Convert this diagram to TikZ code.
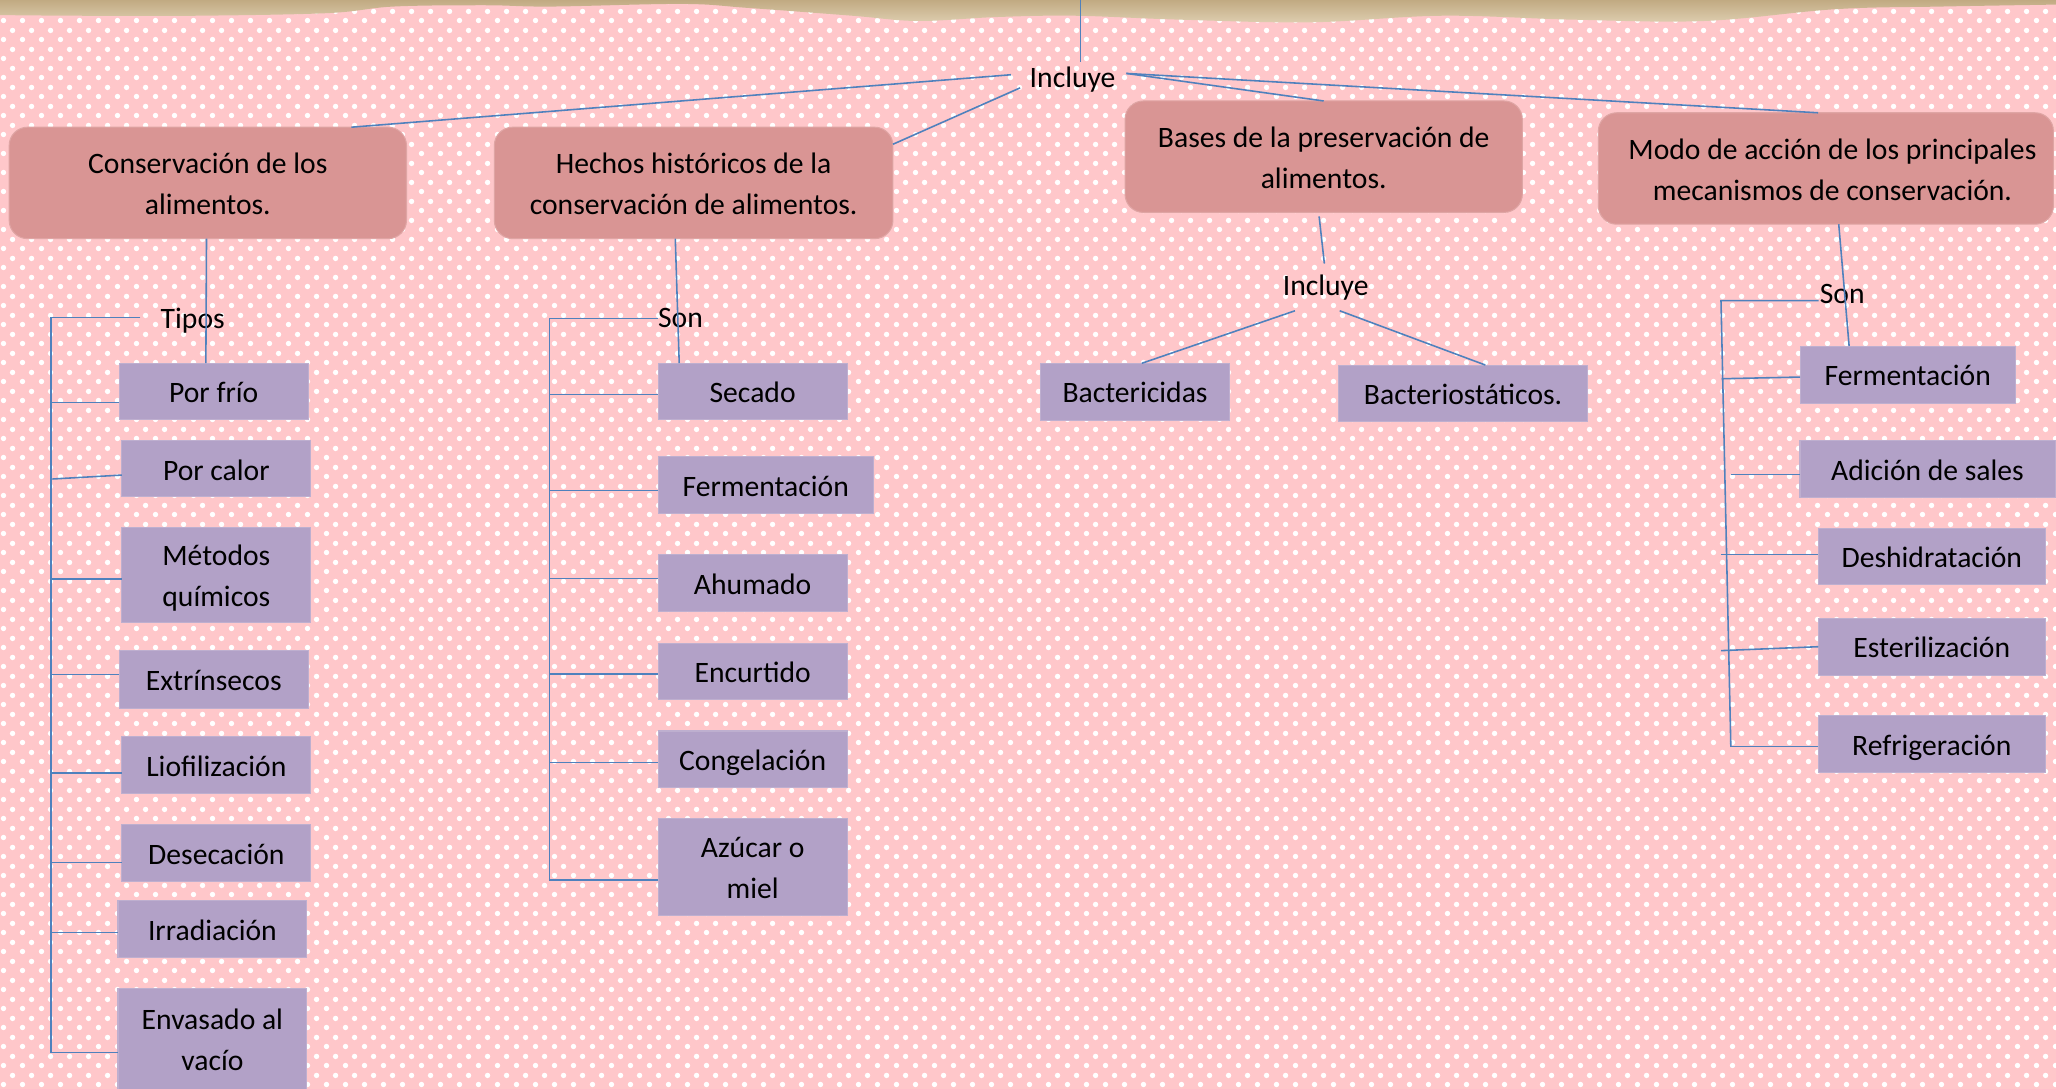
\documentclass[tikz,border=0pt]{standalone}
\usepackage{fontspec}
\setmainfont{Carlito}
\usetikzlibrary{patterns}
\pgfdeclarepatternformonly{pinkdots}{\pgfqpoint{0pt}{0pt}}{\pgfqpoint{7.25pt}{7.25pt}}{\pgfqpoint{7.25pt}{7.25pt}}{%
  \pgfpathcircle{\pgfqpoint{1.8125pt}{1.8125pt}}{1.08pt}%
  \pgfpathcircle{\pgfqpoint{5.4375pt}{5.4375pt}}{1.08pt}%
  \pgfusepath{fill}}
\definecolor{bgpink}{RGB}{255,199,202}
\definecolor{salmon}{RGB}{217,149,148}
\definecolor{lilac}{RGB}{178,161,199}
\definecolor{lineblue}{RGB}{79,129,189}
\definecolor{tanA}{RGB}{193,170,130}
\definecolor{tanB}{RGB}{222,206,176}
\newcommand{\txl}[1]{\raisebox{0pt}[11pt][2.4pt]{#1}}
\tikzset{
  every node/.style={font=\fontsize{11.3pt}{15.6pt}\selectfont, outer sep=0pt},
  conn/.style={draw=lineblue, line width=0.6pt},
  lbl/.style={inner sep=0pt},
  topbox/.style={fill=salmon, draw=salmon!85!white, line width=0.4pt, rounded corners=7pt, align=center, inner sep=0pt},
  leaf/.style={fill=lilac, draw=lilac!85!white, line width=0.4pt, align=center, inner sep=0pt}
}
\begin{document}
\begin{tikzpicture}[x=0.5pt, y=-0.5pt]
\useasboundingbox (0,0) rectangle (1568,830.5);
% background
\fill[bgpink] (0,0) rectangle (1568,830.5);
\fill[pattern=pinkdots, pattern color=white] (0,0) rectangle (1568,830.5);
\shade[top color=tanA, bottom color=tanB] (0,0) -- plot[smooth, tension=0.6] coordinates {(0,11.5) (60,12) (150,12) (250,10) (300,5) (370,4) (420,5) (520,3) (570,6) (650,12) (700,16) (760,13) (820,12) (900,15) (1000,17) (1100,12) (1200,15) (1300,16) (1400,7) (1480,5) (1568,3.5)} -- (1568,0) -- cycle;

% top level
\coordinate (topc) at (824,0);
\node[lbl] (inc) at (818,58) {\txl{Incluye}};
\node[topbox, minimum width=151.5pt, minimum height=42.5pt] (cons) at (158.5,139.5) {\txl{Conservación de los}\\\txl{alimentos.}};
\node[topbox, minimum width=152pt, minimum height=42.5pt] (hech) at (529,139.5) {\txl{Hechos históricos de la}\\\txl{conservación de alimentos.}};
\node[topbox, minimum width=151.5pt, minimum height=42.5pt] (base) at (1009.5,119.5) {\txl{Bases de la preservación de}\\\txl{alimentos.}};
\node[topbox, minimum width=173.5pt, minimum height=42.5pt] (modo) at (1392.5,128.5) {\hspace*{5pt}\txl{Modo de acción de los principales}\\\hspace*{5pt}\txl{mecanismos de conservación.}};

% branch 1
\node[lbl] (tipos) at (147,242) {\txl{Tipos}};
\coordinate (b1top) at (39,242);
\coordinate (b1bot) at (39,803);
\node[leaf, minimum width=72pt, minimum height=21.5pt] (frio) at (163,298.5) {\txl{Por frío}};
\node[leaf, minimum width=72pt, minimum height=21.5pt] (calor) at (165,357.5) {\txl{Por calor}};
\node[leaf, minimum width=72pt, minimum height=36.5pt] (quim) at (165,438.5) {\txl{Métodos}\\\txl{químicos}};
\node[leaf, minimum width=72pt, minimum height=22pt] (extr) at (163,518) {\txl{Extrínsecos}};
\node[leaf, minimum width=72pt, minimum height=21.5pt] (liof) at (165,583.5) {\txl{Liofilización}};
\node[leaf, minimum width=72pt, minimum height=21.5pt] (desec) at (165,650.5) {\txl{Desecación}};
\node[leaf, minimum width=72pt, minimum height=21.5pt] (irrad) at (162,708.5) {\txl{Irradiación}};
\node[leaf, minimum width=72pt, minimum height=38.5pt] (envas) at (162,792.5) {\txl{Envasado al}\\\txl{vacío}};

% branch 2
\node[lbl] (son1) at (519,241.4) {\txl{Son}};
\coordinate (b2top) at (419,243);
\coordinate (b2bot) at (419,671);
\node[leaf, minimum width=72pt, minimum height=21.5pt] (sec) at (574,298.5) {\txl{Secado}};
\node[leaf, minimum width=82pt, minimum height=21.5pt] (ferm1) at (584,370) {\txl{Fermentación}};
\node[leaf, minimum width=72pt, minimum height=21.75pt] (ahum) at (574,444.75) {\txl{Ahumado}};
\node[leaf, minimum width=72pt, minimum height=21.5pt] (encur) at (574,512) {\txl{Encurtido}};
\node[leaf, minimum width=72pt, minimum height=21.5pt] (conge) at (574,579) {\txl{Congelación}};
\node[leaf, minimum width=72pt, minimum height=36.75pt] (azuc) at (574,661.25) {\txl{Azúcar o}\\\txl{miel}};

% branch 3
\node[lbl] (inc2) at (1011,217) {\txl{Incluye}};
\node[leaf, minimum width=72.35pt, minimum height=21.65pt] (bact) at (865.6,298.7) {\txl{Bactericidas}};
\node[leaf, minimum width=94.9pt, minimum height=21.6pt] (bacts) at (1115.8,300) {\txl{Bacteriostáticos.}};

% branch 4
\node[lbl] (son2) at (1405,222.5) {\txl{Son}};
\coordinate (b4top) at (1312.5,229.3);
\coordinate (b4bot) at (1320,569.5);
\node[leaf, minimum width=82.1pt, minimum height=21.85pt] (ferm2) at (1454.9,285.75) {\txl{Fermentación}};
\node[leaf, minimum width=97.25pt, minimum height=21.8pt] (adic) at (1470,357.8) {\txl{Adición de sales}};
\node[leaf, minimum width=86.5pt, minimum height=21.5pt] (deshi) at (1473.25,424.5) {\txl{Deshidratación}};
\node[leaf, minimum width=86.5pt, minimum height=21.6pt] (ester) at (1473.25,493.2) {\txl{Esterilización}};
\node[leaf, minimum width=86.5pt, minimum height=21.65pt] (refri) at (1473.25,567.65) {\txl{Refrigeración}};

% connectors: top level
\draw[conn] (topc) -- ([xshift=3pt,yshift=5.5pt]inc.center);
\draw[conn] ([xshift=-23.5pt,yshift=0.5pt]inc.center) -- ([xshift=54.75pt]cons.north);
\draw[conn] ([xshift=-20pt,yshift=-4.5pt]inc.center) -- ([yshift=14.75pt]hech.east);
\draw[conn] ([xshift=20.5pt,yshift=1pt]inc.center) -- (base.north);
\draw[conn] ([xshift=20.5pt,yshift=1pt]inc.center) -- ([xshift=-3pt]modo.north);

% connectors: branch 1
\draw[conn] ([xshift=-0.5pt]cons.south) -- ([xshift=-3pt]frio.north);
\draw[conn] ([xshift=-20pt]tipos.center) -- (b1top) -- (b1bot);
\draw[conn] ([yshift=-4.25pt]frio.west) -- ++(-26pt,0);
\draw[conn] ([yshift=-2.4pt]calor.west) -- ++(-26.5pt,-1.5pt);
\draw[conn] ([yshift=-1.5pt]quim.west) -- ++(-27pt,0);
\draw[conn] ([yshift=1.85pt]extr.west) -- ++(-26pt,0);
\draw[conn] ([yshift=-2.9pt]liof.west) -- ++(-27pt,0);
\draw[conn] ([yshift=-3.6pt]desec.west) -- ++(-27pt,0);
\draw[conn] ([yshift=-1.4pt]irrad.west) -- ++(-25.5pt,0);
\draw[conn] ([yshift=-5.15pt]envas.west) -- ++(-25.5pt,0);

% connectors: branch 2
\draw[conn] ([xshift=-7pt]hech.south) -- ([xshift=-28pt]sec.north);
\draw[conn] ([xshift=-8.5pt,yshift=-0.8pt]son1.center) -- (b2top) -- (b2bot);
\draw[conn] ([yshift=-1.15pt]sec.west) -- ++(-41.5pt,0);
\draw[conn] ([yshift=-2.1pt]ferm1.west) -- ++(-41.5pt,0);
\draw[conn] ([yshift=1.8pt]ahum.west) -- ++(-41.5pt,0);
\draw[conn] ([yshift=-1.1pt]encur.west) -- ++(-41.5pt,0);
\draw[conn] ([yshift=-1.25pt]conge.west) -- ++(-41.5pt,0);
\draw[conn] ([yshift=-4.9pt]azuc.west) -- ++(-41.5pt,0);

% connectors: branch 3
\draw[conn] ([xshift=-1.75pt,yshift=-1.5pt]base.south) -- ([xshift=-0.5pt,yshift=8pt]inc2.center);
\draw[conn] ([xshift=-11.7pt,yshift=-10pt]inc2.center) -- ([xshift=2.6pt]bact.north);
\draw[conn] ([xshift=5.35pt,yshift=-10pt]inc2.center) -- ([xshift=8.5pt]bacts.north);

% connectors: branch 4
\draw[conn] ([xshift=4.9pt]modo.south) -- ([xshift=-22.35pt]ferm2.north);
\draw[conn] ([xshift=-9pt,yshift=-3.4pt]son2.center) -- (b4top) -- (b4bot);
\draw[conn] ([yshift=-0.9pt]ferm2.west) -- ++(-29.9pt,-0.65pt);
\draw[conn] ([yshift=-2.1pt]adic.west) -- ++(-26.4pt,0);
\draw[conn] ([yshift=0.75pt]deshi.west) -- ++(-37.1pt,0);
\draw[conn] (ester.west) -- ++(-37.1pt,-1.5pt);
\draw[conn] ([yshift=-0.9pt]refri.west) -- ++(-33.4pt,0);
\end{tikzpicture}
\end{document}
